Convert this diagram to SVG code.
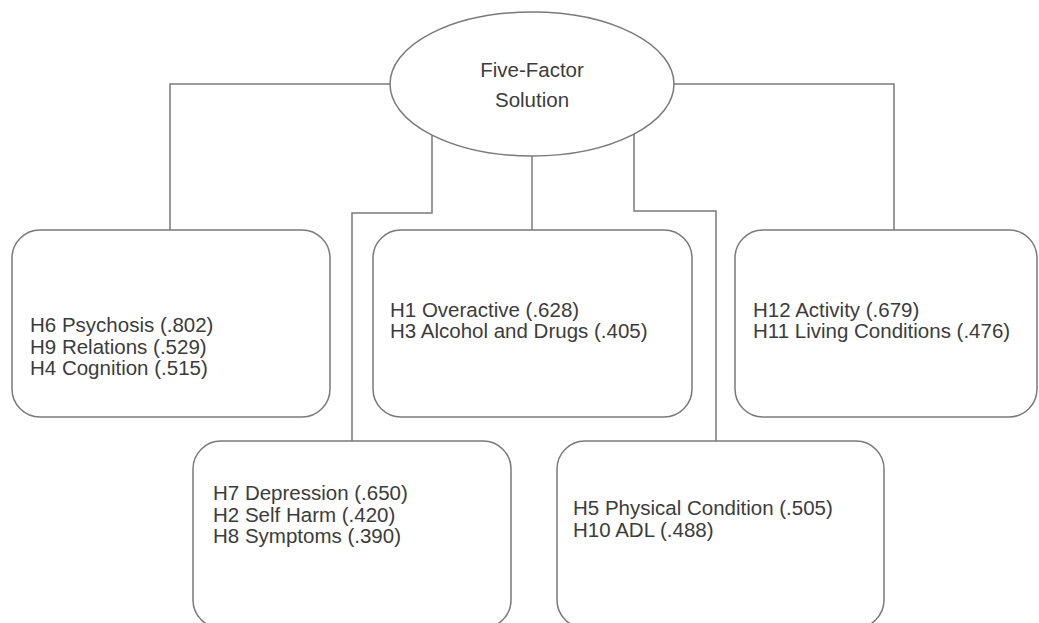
<svg xmlns="http://www.w3.org/2000/svg" width="1039" height="623" viewBox="0 0 1039 623">
<style>
.shape{fill:#ffffff;stroke:#7a7a7a;stroke-width:1.5}
.conn{fill:none;stroke:#7a7a7a;stroke-width:1.5}
text{font-family:"Liberation Sans",Arial,sans-serif;font-size:20.5px;fill:#3c3c3c}
.c{text-anchor:middle}
</style>
<rect width="1039" height="623" fill="#ffffff"/>
<g id="connectors">
<polyline class="conn" points="391,84 170,84 170,230"/>
<polyline class="conn" points="673,84 894,84 894,230"/>
<polyline class="conn" points="532,156 532,230"/>
<polyline class="conn" points="432,135 432,213 352,213 352,441"/>
<polyline class="conn" points="634,134 634,211 716,211 716,441"/>
</g>
<g id="root">
<ellipse class="shape" cx="532" cy="84" rx="142" ry="72"/>
<text class="c" x="532" y="77">Five-Factor</text>
<text class="c" x="532" y="107">Solution</text>
</g>
<g id="factor1">
<rect class="shape" x="12" y="230" width="318" height="187" rx="28" ry="28"/>
<text x="30" y="332">H6 Psychosis (.802)</text>
<text x="30" y="354">H9 Relations (.529)</text>
<text x="30" y="375">H4 Cognition (.515)</text>
</g>
<g id="factor2">
<rect class="shape" x="373" y="230" width="319" height="187" rx="28" ry="28"/>
<text x="390" y="317">H1 Overactive (.628)</text>
<text x="390" y="338">H3 Alcohol and Drugs (.405)</text>
</g>
<g id="factor3">
<rect class="shape" x="735" y="230" width="302" height="187" rx="28" ry="28"/>
<text x="753" y="317">H12 Activity (.679)</text>
<text x="753" y="338">H11 Living Conditions (.476)</text>
</g>
<g id="factor4">
<rect class="shape" x="193" y="441" width="318" height="187" rx="28" ry="28"/>
<text x="213" y="500">H7 Depression (.650)</text>
<text x="213" y="522">H2 Self Harm (.420)</text>
<text x="213" y="543">H8 Symptoms (.390)</text>
</g>
<g id="factor5">
<rect class="shape" x="557" y="441" width="327" height="187" rx="28" ry="28"/>
<text x="573" y="515">H5 Physical Condition (.505)</text>
<text x="573" y="537">H10 ADL (.488)</text>
</g>
</svg>
